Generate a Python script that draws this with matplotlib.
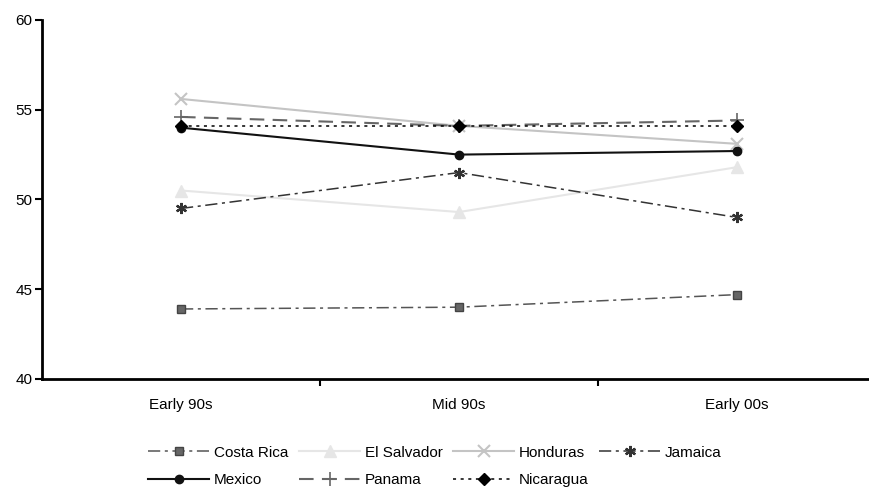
import matplotlib
matplotlib.use('Agg')
import matplotlib.pyplot as plt

plt.rcParams['font.family'] = ['Liberation Sans', 'DejaVu Sans']

periods = ['Early 90s', 'Mid 90s', 'Early 00s']

costa_rica = [43.9, 44.0, 44.7]
el_salvador = [50.5, 49.3, 51.8]
honduras = [55.6, 54.1, 53.1]
jamaica = [49.5, 51.5, 49.0]
mexico = [54.0, 52.5, 52.7]
panama = [54.6, 54.1, 54.4]
nicaragua = [54.1, 54.1, 54.1]

fig = plt.figure(figsize=(8.7, 4.92), dpi=100)
ax = fig.add_axes([0.0483, 0.2297, 0.9586, 0.7297])

x = range(len(periods))

h_cr, = ax.plot(x, costa_rica, color='#555555', lw=1.1, ls=(0, (8, 3, 2, 3)),
                marker='s', ms=6, mfc='#666666', mec='#444444', label='Costa Rica')
h_es, = ax.plot(x, el_salvador, color='#e6e6e6', lw=1.5, ls='-',
                marker='^', ms=8, mfc='#e6e6e6', mec='#e6e6e6', label='El Salvador')
h_ho, = ax.plot(x, honduras, color='#c4c4c4', lw=1.5, ls='-',
                marker='x', ms=8, mew=1.5, label='Honduras')
h_ja, = ax.plot(x, jamaica, color='#333333', lw=1.1, ls=(0, (8, 3, 2, 3)),
                marker=(6, 2, 0), ms=8, mew=1.6, label='Jamaica')
h_me, = ax.plot(x, mexico, color='#111111', lw=1.5, ls='-',
                marker='o', ms=6, label='Mexico')
h_pa, = ax.plot(x, panama, color='#666666', lw=1.5, ls=(0, (7, 4)),
                marker='+', ms=10, mew=1.2, label='Panama')
h_ni, = ax.plot(x, nicaragua, color='#000000', lw=1.1, ls=(0, (2, 3)),
                marker='D', ms=6, label='Nicaragua')

ax.set_xlim(-0.5, 2.5)
ax.set_ylim(40, 60)
ax.set_yticks([40, 45, 50, 55, 60])
ax.set_xticks(list(x))
ax.set_xticklabels(periods)
ax.set_xticks([0.5, 1.5], minor=True)
ax.tick_params(axis='x', which='major', length=0, pad=14, labelsize=11)
ax.tick_params(axis='x', which='minor', length=5, width=1.5)
ax.tick_params(axis='y', length=5, width=1.5, labelsize=11, pad=2)

for s in ['top', 'right']:
    ax.spines[s].set_visible(False)
for s in ['left', 'bottom']:
    ax.spines[s].set_linewidth(2)

# column-major order so the legend reads row by row
handles = [h_cr, h_me, h_es, h_pa, h_ho, h_ni, h_ja]
fig.legend(handles=handles, labels=[h.get_label() for h in handles],
           loc='center', bbox_to_anchor=(0.5, 0.052), ncol=4, frameon=False,
           fontsize=11, handlelength=4.0, columnspacing=0.7,
           handletextpad=0.3, labelspacing=0.9)

fig.savefig('out.png', dpi=100)
